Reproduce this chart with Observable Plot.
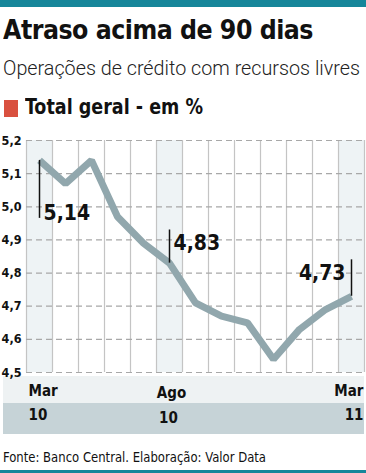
<!DOCTYPE html>
<html>
<head>
<meta charset="utf-8">
<script src="https://cdn.jsdelivr.net/npm/d3@7"></script>
<script src="https://cdn.jsdelivr.net/npm/@observablehq/plot@0.6"></script>
<style>
  html, body { margin: 0; padding: 0; background: #fff; }
  body { width: 366px; height: 473px; position: relative; overflow: hidden;
         font-family: "DejaVu Sans Condensed", "Liberation Sans Narrow", sans-serif; color: #111; }
  .abs { position: absolute; white-space: nowrap; }
  .fit { transform-origin: 0 0; }
  #topbar { left: 0; top: 0; width: 366px; height: 7px; background: #16869a; }
  #botbar { left: 0; top: 470px; width: 366px; height: 3px; background: #16869a; }
  #title { left: 3px; top: 14px; font-size: 27px; font-weight: 900; letter-spacing: -0.5px; font-family: "DejaVu Sans Condensed", sans-serif; }
  #subtitle { left: 3px; top: 56px; font-size: 20px; font-weight: 300; font-family: Roboto, "DejaVu Sans Condensed", sans-serif; color: #222; }
  #swatch { left: 4px; top: 100px; width: 14px; height: 17px; background: #d9503f; }
  #legend { left: 25px; top: 95px; font-size: 21px; font-weight: bold; }
  #bandLight { left: 3px; top: 376px; width: 361px; height: 27px; background: #eef2f3; }
  #bandDark { left: 3px; top: 403px; width: 361px; height: 31px; background: #c6d3d7; }
  #source { left: 3px; top: 449px; font-size: 13.5px; font-family: "DejaVu Sans Condensed", sans-serif; }
  #chart { left: 0; top: 125px; }
</style>
</head>
<body>
<div id="topbar" class="abs"></div>
<div id="title" class="abs fit" data-w="310">Atraso acima de 90 dias</div>
<div id="subtitle" class="abs fit" data-w="357">Operações de crédito com recursos livres</div>
<div id="swatch" class="abs"></div>
<div id="legend" class="abs fit" data-w="178">Total geral - em %</div>
<div id="bandLight" class="abs"></div>
<div id="bandDark" class="abs"></div>
<div id="chart" class="abs"></div>
<div id="source" class="abs fit" data-w="263">Fonte: Banco Central. Elaboração: Valor Data</div>
<div id="botbar" class="abs"></div>
<script>
// Data: monthly, Mar/2010 to Mar/2011
const months = ["Mar","Abr","Mai","Jun","Jul","Ago","Set","Out","Nov","Dez","Jan","Fev","Mar"];
const values = [5.14, 5.07, 5.14, 4.97, 4.89, 4.83, 4.71, 4.67, 4.65, 4.54, 4.63, 4.69, 4.73];
const yTicks = [4.5, 4.6, 4.7, 4.8, 4.9, 5.0, 5.1, 5.2];
// x tick labels (index into months)
const tickIndex = [0, 5, 12];
const tickMonth = ["Mar", "Ago", "Mar"];
const tickYear = ["10", "10", "11"];
// highlighted months
const shaded = [0, 5, 12];
// annotations: index, label, end of leader line (value units), label anchor value
const annoIndex = [0, 5, 12];
const annoLabel = ["5,14", "4,83", "4,73"];
const annoEnd = [4.965, 4.93, 4.84];
const annoTextY = [4.98, 4.89, 4.80];

const idx = months.map((_, i) => i);
const data = idx.map(i => ({i, month: months[i], value: values[i]}));
const edges = d3.range(months.length + 1).map(i => i - 0.5);
const annos = annoIndex.map((i, k) => ({i, v: values[i], end: annoEnd[k], label: annoLabel[k], ty: annoTextY[k]}));
const ticks = tickIndex.map((i, k) => ({i, m: tickMonth[k], y: tickYear[k]}));

const fmt = d => d.toFixed(1).replace(".", ",");
const font = "DejaVu Sans Condensed, Liberation Sans Narrow, sans-serif";
const last = months.length - 1;
const lbl = {fontSize: 15, fontWeight: "bold", fill: "#111", frameAnchor: "bottom"};

const plot = Plot.plot({
  width: 366,
  height: 315,
  marginLeft: 26,
  marginRight: 2,
  marginTop: 15,
  marginBottom: 68,
  style: {fontFamily: font, background: "transparent", overflow: "visible"},
  x: {type: "linear", domain: [-0.5, months.length - 0.5], axis: null},
  y: {domain: [4.5, 5.2], ticks: yTicks},
  marks: [
    Plot.rectY(shaded, {x1: i => i - 0.5, x2: i => i + 0.5, y1: 4.5, y2: 5.2, fill: "#eef3f5"}),
    Plot.ruleX(edges, {x: d => d, y1: 4.5, y2: 5.2, stroke: "#c4c4c4", strokeWidth: 1.2}),
    Plot.ruleY(yTicks, {y: d => d, stroke: "#a8a8a8", strokeWidth: 1.2, strokeDasharray: "6,4"}),
    Plot.axisY({ticks: yTicks, tickSize: 0, tickPadding: 5, tickFormat: fmt, label: null,
      fontWeight: "bold", fontSize: 12.5, fill: "#111"}),
    Plot.line(data, {x: "i", y: "value", stroke: "#91a7ad", strokeWidth: 7, strokeLinejoin: "miter", strokeLinecap: "butt"}),
    Plot.ruleX(annos, {x: "i", y1: "v", y2: "end", stroke: "#111", strokeWidth: 1.5}),
    Plot.text(annos.filter(a => a.i !== last), {x: "i", y: "ty", text: "label", textAnchor: "start", dx: 4,
      fontSize: 21, fontWeight: "bold", fill: "#111", letterSpacing: -1.5}),
    Plot.text(annos.filter(a => a.i === last), {x: "i", y: "ty", text: "label", textAnchor: "end", dx: -6,
      fontSize: 21, fontWeight: "bold", fill: "#111", letterSpacing: -1.5}),
    // x tick labels (two rows)
    Plot.text(ticks.filter(t => t.i === 0), {...lbl, x: d => d.i - 0.5, text: "m", textAnchor: "start", dx: 2, dy: 23}),
    Plot.text(ticks.filter(t => t.i === 0), {...lbl, x: d => d.i - 0.5, text: "y", textAnchor: "start", dx: 2, dy: 47}),
    Plot.text(ticks.filter(t => t.i > 0 && t.i < last), {...lbl, x: "i", text: "m", textAnchor: "middle", dx: 2, dy: 25}),
    Plot.text(ticks.filter(t => t.i > 0 && t.i < last), {...lbl, x: "i", text: "y", textAnchor: "middle", dx: -1, dy: 50}),
    Plot.text(ticks.filter(t => t.i === last), {...lbl, x: d => d.i + 0.5, text: "m", textAnchor: "end", dx: -1, dy: 23}),
    Plot.text(ticks.filter(t => t.i === last), {...lbl, x: d => d.i + 0.5, text: "y", textAnchor: "end", dx: -1, dy: 47})
  ]
});
document.getElementById("chart").appendChild(plot);

// fit header/footer text widths to the reference layout
document.querySelectorAll(".fit").forEach(el => {
  const w = el.getBoundingClientRect().width;
  const target = +el.dataset.w;
  if (w > 0) el.style.transform = `scaleX(${target / w})`;
});
</script>
</body>
</html>
